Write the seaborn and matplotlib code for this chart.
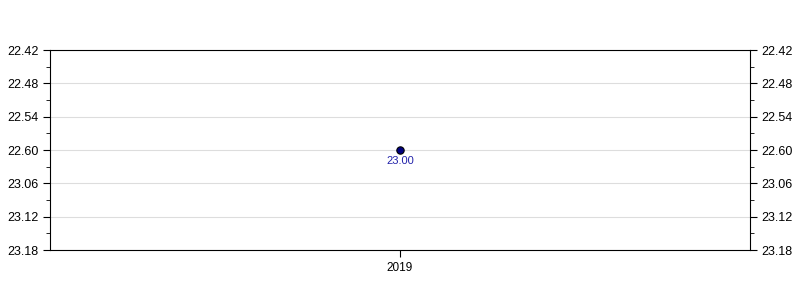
import matplotlib
matplotlib.use("Agg")
import matplotlib.pyplot as plt
from matplotlib.ticker import FixedLocator, FixedFormatter
import seaborn as sns
import pandas as pd

years = ["2019"]
times_sec = [1380]          # 23:00
point_labels = ["23.00"]
ytick_vals = [1362, 1368, 1374, 1380, 1386, 1392, 1398]
ytick_labels = ["22.42", "22.48", "22.54", "22.60", "23.06", "23.12", "23.18"]
yminor_vals = [1365, 1371, 1377, 1383, 1389, 1395]

sns.set_style("white")
plt.rcParams["font.family"] = ["Liberation Sans", "DejaVu Sans"]
plt.rcParams["text.color"] = "black"
plt.rcParams["xtick.color"] = "black"
plt.rcParams["ytick.color"] = "black"

df = pd.DataFrame({"year": years, "t": times_sec})

fig = plt.figure(figsize=(8, 3), dpi=100)
ax = fig.add_axes([0.0625, 1 / 6, 0.875, 2 / 3])

sns.scatterplot(data=df, x="year", y="t", ax=ax, s=28, color="#000080",
                edgecolor="black", linewidth=0.8, zorder=5)
for xv, yv, lab in zip(range(len(years)), times_sec, point_labels):
    ax.annotate(lab, (xv, yv), xytext=(0, -4), textcoords="offset points",
                ha="center", va="top", fontsize=8, color="#2222aa")

ax.set_xlim(-1, 1)
ax.set_ylim(ytick_vals[-1], ytick_vals[0])
ax.yaxis.set_major_locator(FixedLocator(ytick_vals))
ax.yaxis.set_major_formatter(FixedFormatter(ytick_labels))
ax.yaxis.set_minor_locator(FixedLocator(yminor_vals))
ax.set_xlabel("")
ax.set_ylabel("")
ax.grid(axis="y", which="major", color="#dddddd", linewidth=0.8)
ax.grid(axis="x", visible=False)
for s in ax.spines.values():
    s.set_color("black")
    s.set_linewidth(0.8)
ax.tick_params(axis="y", which="both", left=True, right=True, labelleft=True,
               labelright=True, direction="out", color="black",
               labelcolor="black", labelsize=9)
ax.tick_params(axis="y", which="major", length=5)
ax.tick_params(axis="y", which="minor", length=3)
ax.tick_params(axis="x", bottom=True, direction="out", length=5, color="black",
               labelcolor="black", labelsize=8.5)

fig.savefig("out.png", dpi=100)
